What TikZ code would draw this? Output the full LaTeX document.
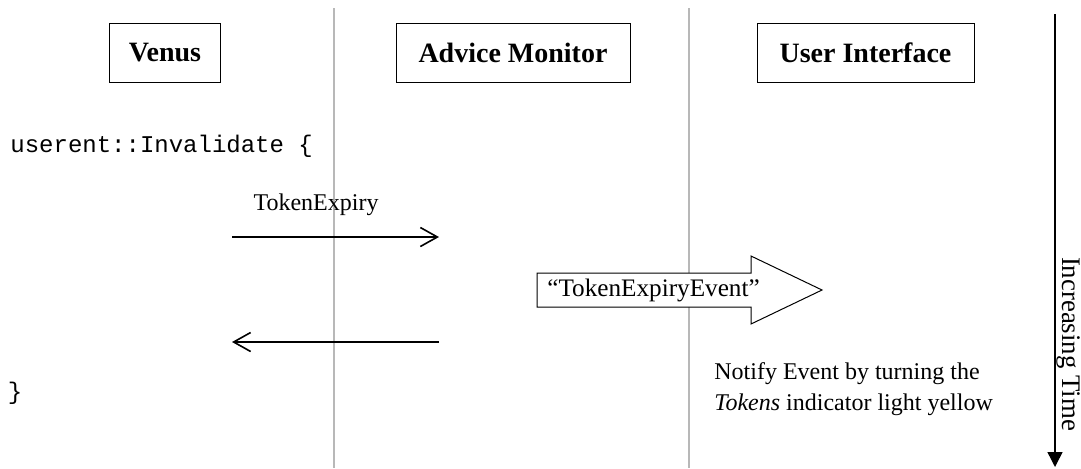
\documentclass[tikz,border=0pt]{standalone}
\usepackage{fontspec}
\setmainfont{Liberation Serif}
\setmonofont{Liberation Mono}
\usetikzlibrary{arrows.meta}

\tikzset{
  actor/.style={draw, line width=0.5pt, minimum height=29.5pt, inner sep=0pt,
    font=\fontsize{14}{17}\selectfont\bfseries},
  lifeline/.style={draw=black!28, line width=0.6pt},
  msg/.style={line width=0.8pt, -{Straight Barb[length=8.5pt, width=9.5pt]}},
  msgtext/.style={font=\fontsize{12}{15.5}\selectfont, inner sep=0pt},
  codetext/.style={font=\fontsize{12}{14}\selectfont\ttfamily, inner sep=0pt}
}

\begin{document}
\begin{tikzpicture}[x=0.5pt, y=-0.5pt]
  \useasboundingbox (0,0) rectangle (1081,468);

  \coordinate (venusline top) at (334,8);
  \coordinate (venusline bot) at (334,468);
  \coordinate (adviceline top) at (689,8);
  \coordinate (adviceline bot) at (689,468);
  \draw[lifeline] (venusline top) -- (venusline bot);
  \draw[lifeline] (adviceline top) -- (adviceline bot);

  \node[actor, minimum width=55.75pt] (venus) at (165,53) {Venus};
  \node[actor, minimum width=117pt] (advice) at (513,53) {Advice Monitor};
  \node[actor, minimum width=108.5pt] (ui) at (865.5,53) {User Interface};

  \node[codetext, anchor=west] (invalidate) at (10,146) {userent::Invalidate \{};
  \node[codetext] (closebrace) at (15,393) {\}};

  \coordinate (expiry from) at (232,237);
  \coordinate (expiry to) at (439,237);
  \draw[msg] (expiry from) -- (expiry to);
  \node[msgtext] (expiry) at (316,205) {TokenExpiry};

  \filldraw[fill=white, line width=0.5pt] (537,273) -- (751,273) -- (751,256) -- (822,290)
    -- (751,324) -- (751,307) -- (537,307) -- cycle;
  \node[msgtext, font=\fontsize{12.6}{15}\selectfont] (event) at (653.5,290) {“TokenExpiryEvent”};

  \coordinate (reply from) at (439,342);
  \coordinate (reply to) at (232,342);
  \draw[msg] (reply from) -- (reply to);

  \node[msgtext, anchor=west, align=left] (notify) at (714,389)
    {Notify Event by turning the\\\textit{Tokens} indicator light yellow};

  \coordinate (time top) at (1055,14);
  \coordinate (time bot) at (1055,467);
  \draw[line width=0.7pt, -{Triangle[length=7.5pt, width=7.5pt]}] (time top) -- (time bot);
  \node[msgtext, font=\fontsize{13.4}{16}\selectfont, rotate=-90] (time) at (1068,344) {Increasing Time};
\end{tikzpicture}
\end{document}
